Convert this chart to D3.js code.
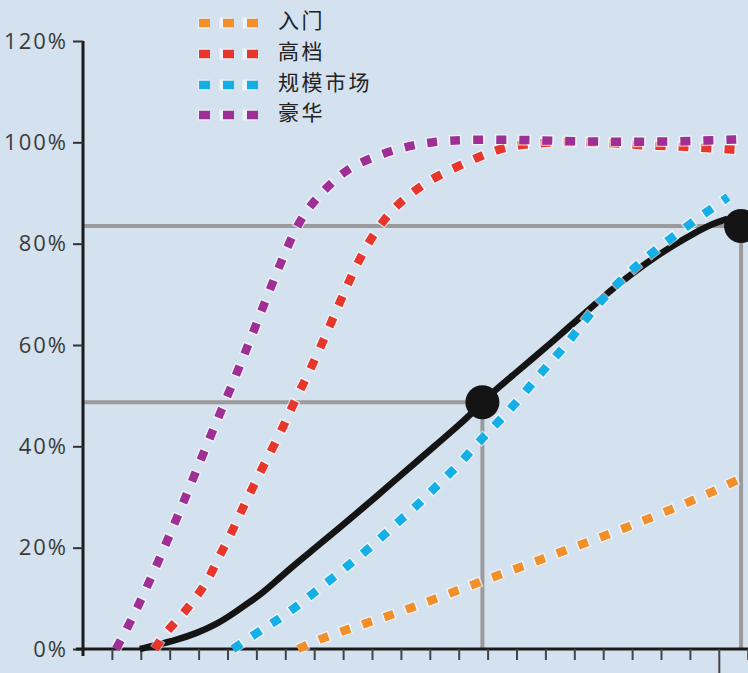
<!DOCTYPE html>
<html>
<head>
<meta charset="utf-8">
<script src="https://cdn.jsdelivr.net/npm/d3@7/dist/d3.min.js"></script>
<style>
  html, body { margin: 0; padding: 0; background: #d4e1ef; }
  svg { display: block; }
</style>
</head>
<body>
<script>
// Adoption share (%) over time, x in axis-tick units
const entryLevel = [[7.44,0],[8.31,2.3],[9.82,5.1],[11.31,8.0],[12.84,11.3],[14.37,14.6],[15.87,17.7],[17.37,20.9],[18.87,24.1],[20.37,27.6],[21.87,31.2],[22.91,34.1]];
const premium = [[2.49,0],[2.80,3.0],[3.38,6.3],[3.88,10.0],[4.34,13.6],[4.68,18.0],[5.09,22.3],[5.43,26.6],[5.78,30.8],[6.15,35.1],[6.53,39.3],[6.91,43.6],[7.23,47.8],[7.60,52.1],[7.97,56.4],[8.55,63.9],[9.07,70.9],[9.58,77.2],[10.10,82.3],[10.62,86.2],[11.14,89.0],[11.83,92.0],[12.53,94.1],[13.29,96.1],[14.01,97.9],[14.78,99.3],[15.57,99.7],[16.4,100.1],[17.2,100.1],[17.9,99.9],[18.8,99.7],[19.5,99.3],[20.4,99.3],[21.1,99.0],[21.9,98.8],[22.7,98.5]];
const massMarket = [[5.19,0],[6.01,3.2],[6.70,5.6],[7.37,8.3],[8.01,11.2],[8.64,14.0],[9.26,16.9],[9.91,19.9],[10.51,23.0],[11.11,26.1],[11.72,29.2],[12.29,32.5],[12.91,35.8],[13.45,39.3],[13.98,42.6],[14.54,45.8],[15.12,49.5],[15.64,53.1],[16.16,56.5],[16.71,60.0],[17.20,63.6],[17.72,67.4],[18.29,71.0],[18.87,74.2],[19.48,77.2],[20.11,80.1],[20.75,82.8],[21.44,85.7],[22.32,89.2]];
const luxury = [[1.14,0],[1.685,5.7],[2.38,14.3],[3.03,22.9],[3.68,31.8],[4.30,40.5],[4.95,49.3],[5.57,57.9],[6.18,66.8],[6.79,75.6],[7.45,84.3],[7.95,88.1],[8.45,91.2],[9.07,94.5],[9.93,96.9],[10.97,98.9],[12.0,100.1],[13.4,100.6],[15.1,100.5],[16.5,100.3],[17.9,100.1],[19.6,100.1],[21.35,100.3],[22.8,100.6]];
const overall = [[1.97,0],[2.55,0.8],[3.24,1.8],[3.93,3.1],[4.63,4.9],[5.20,7.0],[5.78,9.3],[6.24,11.2],[6.68,13.4],[7.27,16.4],[8.09,20.2],[8.78,23.5],[9.47,26.8],[10.16,30.1],[10.85,33.6],[11.55,37.0],[12.24,40.4],[12.93,43.8],[13.39,46.2],[13.82,48.7],[14.20,50.8],[14.89,54.1],[15.58,57.4],[16.27,60.8],[16.97,64.3],[17.66,67.8],[18.35,71.2],[19.04,74.3],[19.73,77.1],[20.43,79.7],[21.12,82.0],[21.81,84.0],[22.30,84.9]];
const markers = [[13.82,48.7],[22.77,83.5]];

const seriesNames = ["入门", "高档", "规模市场", "豪华"];
const seriesColors = ["#f18f2b", "#e8362c", "#14afe6", "#9d2f95"];
const seriesData = [entryLevel, premium, massMarket, luxury];

const xTicks = d3.range(1, 24);
const longTick = 22;
const yTicks = [0, 20, 40, 60, 80, 100, 120];

const W = 748, H = 673;
const svg = d3.select("body").append("svg").attr("width", W).attr("height", H);
svg.append("rect").attr("width", W).attr("height", H).attr("fill", "#d4e1ef");

const x = d3.scaleLinear().domain([0, 23]).range([83, 747.7]);
const y = d3.scaleLinear().domain([0, 120]).range([649, 41]);

// guide lines to the highlighted points
const guides = svg.append("g").attr("stroke", "#9a9a9a").attr("stroke-width", 4).attr("fill", "none");
markers.forEach(([u, v]) => {
  guides.append("line").attr("x1", x(0)).attr("x2", x(u)).attr("y1", y(v)).attr("y2", y(v));
  guides.append("line").attr("x1", x(u)).attr("x2", x(u)).attr("y1", y(v)).attr("y2", y(0));
});

// axes
const yAxis = svg.append("g").attr("transform", `translate(${x(0)},0)`)
  .call(d3.axisLeft(y).tickValues(yTicks).tickSize(10).tickSizeOuter(0).tickPadding(5).tickFormat(d => d + "%"));
yAxis.select(".domain").attr("d", `M0,${y(120)}V656`).attr("stroke", "#1a1a1a").attr("stroke-width", 3);
yAxis.selectAll(".tick line").attr("stroke", "#333").attr("stroke-width", 2);
yAxis.selectAll(".tick text").attr("fill", "#3a3a3a")
  .style("font-family", "'Open Sans', sans-serif").style("font-size", "22px")
  .style("letter-spacing", "2px");

const xAxis = svg.append("g").attr("transform", `translate(0,${y(0)})`)
  .call(d3.axisBottom(x).tickValues(xTicks).tickSize(11).tickSizeOuter(0).tickFormat(""));
xAxis.select(".domain").attr("d", `M76,0H${W}`).attr("stroke", "#1a1a1a").attr("stroke-width", 3);
xAxis.selectAll(".tick line").attr("stroke", "#444").attr("stroke-width", 2)
  .attr("y2", d => d === longTick ? 24 : 11);

const line = d3.line().x(d => x(d[0])).y(d => y(d[1])).curve(d3.curveBasis);

// overall curve
svg.append("path").datum(overall).attr("d", line)
  .attr("fill", "none").attr("stroke", "#141414").attr("stroke-width", 6.5)
  .attr("stroke-linecap", "butt").attr("stroke-linejoin", "round");

svg.append("g").selectAll("circle").data(markers).join("circle")
  .attr("cx", d => x(d[0])).attr("cy", d => y(d[1])).attr("r", 17).attr("fill", "#141414");

// dotted segment series with a pale halo
const dash = "10,13", halo = "13,10";
seriesData.forEach((data, i) => {
  const g = svg.append("g");
  g.append("path").datum(data).attr("d", line).attr("fill", "none")
    .attr("stroke", "rgba(255,255,255,0.6)").attr("stroke-width", 11)
    .attr("stroke-dasharray", halo).attr("stroke-dashoffset", 1.5);
  g.append("path").datum(data).attr("d", line).attr("fill", "none")
    .attr("stroke", seriesColors[i]).attr("stroke-width", 8.5)
    .attr("stroke-dasharray", dash);
});

// legend
const legend = svg.append("g");
const legendY = [23, 54, 85, 115];
seriesNames.forEach((name, i) => {
  const ly = legendY[i];
  legend.append("line").attr("x1", 198).attr("x2", 258).attr("y1", ly).attr("y2", ly)
    .attr("stroke", "rgba(255,255,255,0.6)").attr("stroke-width", 11)
    .attr("stroke-dasharray", halo).attr("stroke-dashoffset", 1.5);
  legend.append("line").attr("x1", 199).attr("x2", 258).attr("y1", ly).attr("y2", ly)
    .attr("stroke", seriesColors[i]).attr("stroke-width", 8.5)
    .attr("stroke-dasharray", "11,13");
  legend.append("text").attr("x", 278).attr("y", ly - 2).attr("dy", "0.35em")
    .attr("fill", "#222")
    .style("font-family", "'Noto Sans CJK SC', sans-serif").style("font-size", "21px")
    .style("letter-spacing", "2.5px")
    .text(name);
});
</script>
</body>
</html>
